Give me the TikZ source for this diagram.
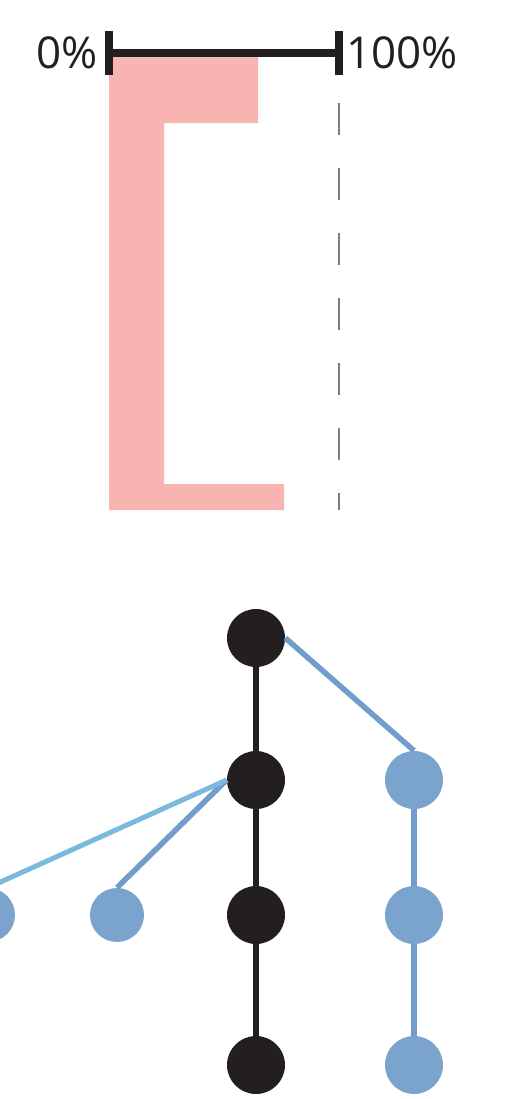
\documentclass[tikz,border=0pt]{standalone}
\usepackage{fontspec}
\setmainfont{Open Sans}
\usetikzlibrary{positioning}

\definecolor{barpink}{RGB}{247,180,177}
\definecolor{inkblack}{RGB}{35,31,32}
\definecolor{nodeblue}{RGB}{122,163,205}
\definecolor{edgeblue}{RGB}{112,157,204}
\definecolor{edgelight}{RGB}{124,185,222}
\definecolor{dashgray}{RGB}{125,125,128}

\begin{document}
\begin{tikzpicture}[x=0.02cm, y=-0.02cm]
\tikzstyle{tick_mark}=[rectangle, fill=inkblack, inner sep=0, minimum width=0.15cm, minimum height=0.88cm];
\tikzstyle{pct_label}=[inner sep=0, text depth=0pt, font=\fontsize{25}{30}\selectfont, text=inkblack];
\tikzstyle{node_main}=[circle, fill=inkblack, inner sep=0, minimum size=1.16cm];
\tikzstyle{node_side}=[circle, fill=nodeblue, inner sep=0, minimum size=1.16cm];
\tikzstyle{node_leaf}=[circle, fill=nodeblue, inner sep=0, minimum size=1.08cm];
\tikzstyle{edge_main}=[draw=inkblack, line width=0.12cm];
\tikzstyle{edge_side}=[draw=edgeblue, line width=0.11cm];
\tikzstyle{edge_far}=[draw=edgelight, line width=0.1cm];
\tikzstyle{guide}=[draw=dashgray, line width=0.045cm, dash pattern=on 0.64cm off 0.66cm];

\useasboundingbox (0,0) rectangle (523,1099);

% coverage bracket
\fill[barpink] (109,53) -- (258,53) -- (258,123) -- (164,123) -- (164,484) -- (284,484) -- (284,510) -- (109,510) -- cycle;
\coordinate (Guide Top) at (339,103);
\coordinate (Guide End) at (339,510);
\draw[guide] (Guide Top) -- (Guide End);

% scale bar
\node [tick_mark] at (109,53) (Zero) {};
\node [tick_mark] at (339,53) (Full) {};
\draw[inkblack, line width=0.15cm] (Zero) -- (Full);
\node [pct_label, left=0.14cm of Zero] (Zero Label) {0\%};
\node [pct_label, right=0.06cm of Full] (Full Label) {100\%};

% tree
\node [node_main] at (256,638) (Root) {};
\node [node_main] at (256,780) (Main 2) {};
\node [node_main] at (256,915) (Main 3) {};
\node [node_main] at (256,1065) (Main 4) {};
\node [node_side] at (414,780) (Side 1) {};
\node [node_side] at (414,915) (Side 2) {};
\node [node_side] at (414,1065) (Side 3) {};
\node [node_leaf] at (117,915) (Leaf Near) {};
\node [node_leaf] at (-12,915) (Leaf Far) {};

\draw[edge_main] (Root) -- (Main 2);
\draw[edge_main] (Main 2) -- (Main 3);
\draw[edge_main] (Main 3) -- (Main 4);

\draw[edge_side] (Root.east) -- (Side 1.north);
\draw[edge_side] (Side 1) -- (Side 2);
\draw[edge_side] (Side 2) -- (Side 3);
\draw[edge_side] (Main 2.west) -- (Leaf Near.north);
\draw[edge_far] (Main 2.west) -- (Leaf Far.north);

\end{tikzpicture}
\end{document}
